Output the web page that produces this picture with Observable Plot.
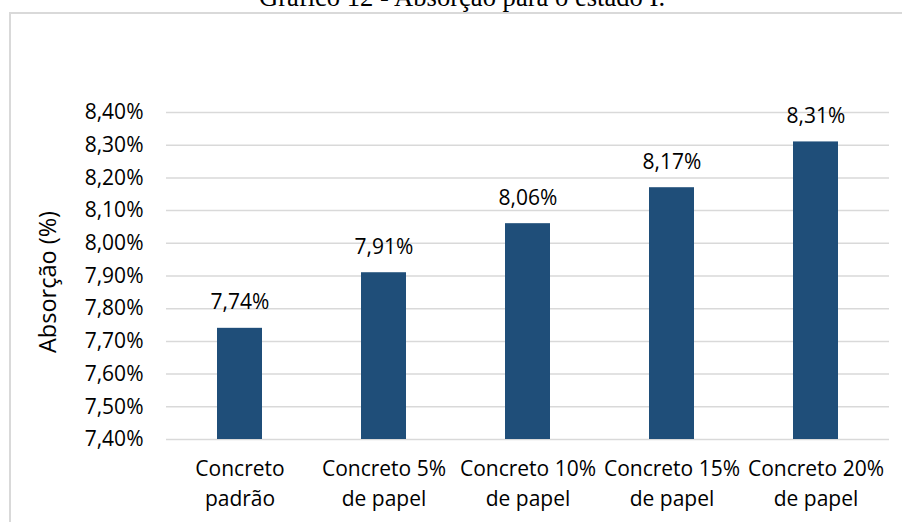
<!DOCTYPE html>
<html>
<head>
<meta charset="utf-8">
<script src="https://cdn.jsdelivr.net/npm/d3@7"></script>
<script src="https://cdn.jsdelivr.net/npm/@observablehq/plot@0.6"></script>
<style>
  html, body { margin: 0; padding: 0; background: #fff; overflow: hidden; }
  #wrap { position: relative; width: 902px; height: 522px; overflow: hidden; }
  #title { position: absolute; left: 22px; top: -16px; width: 880px; text-align: center;
           font-family: "Liberation Serif", "Times New Roman", serif; font-size: 26.6px; line-height: 1; color: #000; white-space: nowrap; }
  #frame { position: absolute; left: 9px; top: 12px; width: 900px; height: 520px;
           border-left: 2px solid #d9d9d9; border-top: 2px solid #d9d9d9; pointer-events: none; }
  #chart { position: absolute; left: 0; top: 0; }
</style>
</head>
<body>
<div id="wrap">
  <div id="chart"></div>
  <div id="frame"></div>
  <div id="title">Gráfico 12 - Absorção para o estado I.</div>
</div>
<script>
const categories = ["Concreto\npadrão", "Concreto 5%\nde papel", "Concreto 10%\nde papel", "Concreto 15%\nde papel", "Concreto 20%\nde papel"];
const values = [7.74, 7.91, 8.06, 8.17, 8.31];
const yTicks = [7.4, 7.5, 7.6, 7.7, 7.8, 7.9, 8.0, 8.1, 8.2, 8.3, 8.4];
const yLabel = "Absorção (%)";

const fmt = d => d.toFixed(2).replace(".", ",") + "%";
const data = categories.map((c, i) => ({category: c, value: values[i]}));
const font = "'Open Sans', 'Noto Sans', sans-serif";
const fs = 21;

const chart = Plot.plot({
  width: 902,
  height: 522,
  marginLeft: 166,
  marginRight: 13,
  marginTop: 112,
  marginBottom: 83,
  style: {fontFamily: font, fontSize: fs + "px", color: "#000", background: "transparent"},
  x: {domain: categories, paddingInner: 0.69, paddingOuter: 0.345, label: null},
  y: {domain: [7.4, 8.4], label: null},
  marks: [
    Plot.gridY(yTicks, {stroke: "#d9d9d9", strokeOpacity: 1, strokeWidth: 1.5}),
    Plot.barY(data, {x: "category", y1: 7.4, y2: "value", fill: "#1f4e79"}),
    Plot.axisY(yTicks, {tickSize: 0, tickPadding: 23, tickFormat: fmt, fontSize: fs, fontFamily: font, fill: "#000", label: null}),
    Plot.axisX({tickSize: 0, tickPadding: 16, fontSize: fs, fontFamily: font, fill: "#000", lineHeight: 1.4, label: null}),
    Plot.text(data, {x: "category", y: "value", text: d => fmt(d.value), lineAnchor: "bottom", dy: -19, fontSize: fs, fontFamily: font, fill: "#000"}),
    Plot.text([yLabel], {frameAnchor: "left", textAnchor: "middle", dx: -118, dy: 6, rotate: -90, fontSize: 23.5, fontFamily: font, fill: "#000"})
  ]
});
document.getElementById("chart").appendChild(chart);
</script>
</body>
</html>
